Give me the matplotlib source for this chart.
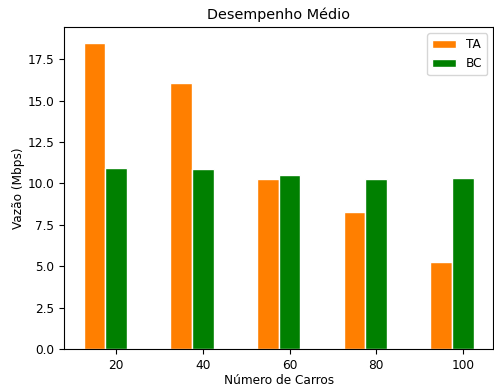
import numpy as np
import matplotlib
matplotlib.use("Agg")
import matplotlib.pyplot as plt

carros = [20, 40, 60, 80, 100]
vazao_ta = [18.5, 16.05, 10.27, 8.27, 5.27]
vazao_bc = [10.92, 10.86, 10.49, 10.27, 10.33]

largura = 5

plt.rcParams["font.size"] = 8.7
plt.rcParams["axes.titlesize"] = 10.4

fig = plt.figure(figsize=(4.94, 3.87), dpi=100)
ax = fig.add_axes([0.1296, 0.0982, 0.8690, 0.8313])

x = np.array(carros)
ax.bar(x - largura, vazao_ta, width=largura, color="#ff7f00",
       edgecolor="white", label="TA")
ax.bar(x, vazao_bc, width=largura, color="green",
       edgecolor="white", label="BC")

ax.set_xticks(carros)
ax.set_title("Desempenho Médio")
ax.set_xlabel("Número de Carros", labelpad=1.5)
ax.set_ylabel("Vazão (Mbps)", labelpad=1.5)
ax.legend(loc="upper right")

fig.savefig("out.png", dpi=100)
